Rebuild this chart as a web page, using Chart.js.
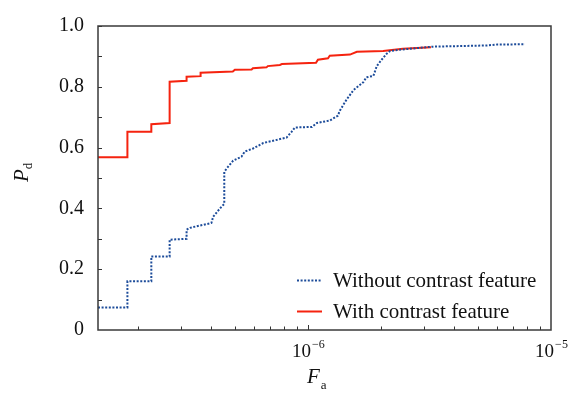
<!DOCTYPE html>
<html>
<head>
<meta charset="utf-8">
<script src="https://cdn.jsdelivr.net/npm/chart.js@4.4.1/dist/chart.umd.min.js"></script>
<style>
  html, body { margin: 0; padding: 0; background: #fff; }
</style>
</head>
<body>
<canvas id="chart" width="576" height="394"></canvas>
<script>
// false alarm rate (x) and detection probability (y)
const withoutFa = [1.37e-7, 1.81e-7, 1.81e-7, 2.27e-7, 2.27e-7, 2.70e-7, 2.70e-7, 3.17e-7, 3.17e-7, 3.27e-7,
  4.01e-7, 4.08e-7, 4.35e-7, 4.53e-7, 4.53e-7, 4.63e-7, 4.93e-7, 5.33e-7, 5.50e-7, 5.95e-7,
  6.55e-7, 8.17e-7, 8.57e-7, 8.84e-7, 1.04e-6, 1.09e-6, 1.23e-6, 1.33e-6, 1.35e-6, 1.44e-6,
  1.54e-6, 1.69e-6, 1.74e-6, 1.86e-6, 1.92e-6, 2.01e-6, 2.11e-6, 2.18e-6, 2.39e-6, 3.24e-6,
  5.45e-6, 6.0e-6, 7.82e-6];
const withoutPd = [0.074, 0.074, 0.160, 0.160, 0.242, 0.242, 0.297, 0.300, 0.330, 0.336,
  0.352, 0.373, 0.400, 0.415, 0.520, 0.531, 0.557, 0.570, 0.587, 0.597,
  0.615, 0.633, 0.652, 0.666, 0.668, 0.681, 0.689, 0.705, 0.720, 0.757,
  0.789, 0.815, 0.831, 0.836, 0.868, 0.889, 0.909, 0.918, 0.922, 0.932,
  0.936, 0.939, 0.940];

const withFa = [1.37e-7, 1.81e-7, 1.81e-7, 2.27e-7, 2.27e-7, 2.70e-7, 2.70e-7, 3.17e-7, 3.17e-7, 3.62e-7,
  3.62e-7, 4.91e-7, 5.01e-7, 5.87e-7, 5.94e-7, 6.76e-7, 6.84e-7, 7.67e-7, 7.82e-7, 1.08e-6,
  1.10e-6, 1.21e-6, 1.23e-6, 1.49e-6, 1.59e-6, 2.04e-6, 2.46e-6, 3.21e-6];
const withPd = [0.568, 0.568, 0.652, 0.652, 0.677, 0.681, 0.817, 0.820, 0.833, 0.835,
  0.846, 0.850, 0.856, 0.857, 0.861, 0.864, 0.868, 0.872, 0.875, 0.879,
  0.889, 0.894, 0.902, 0.906, 0.915, 0.918, 0.925, 0.930];

const seriesLabels = ['Without contrast feature', 'With contrast feature'];
const yTickValues = [0, 0.2, 0.4, 0.6, 0.8, 1.0];
const xLabelExponents = [-6, -5];

const SERIF = '"Liberation Serif", "Times New Roman", serif';
const BLUE = '#1d4c9a';
const RED = '#f5230f';

const toPoints = (xs, ys) => xs.map((x, i) => ({ x, y: ys[i] }));

// frame, inward ticks, x labels, axis titles and legend
const decorations = {
  id: 'decorations',
  afterDraw(chart) {
    const { ctx, chartArea: a, scales: { x, y } } = chart;
    ctx.save();

    // tick marks pointing into the plot
    ctx.strokeStyle = '#333';
    ctx.lineWidth = 1;
    ctx.beginPath();
    for (let v = 0.1; v < 1; v += 0.1) {
      const py = Math.round(y.getPixelForValue(v)) + 0.5;
      ctx.moveTo(a.left, py);
      ctx.lineTo(a.left + 4, py);
    }
    for (let e = -7; e <= -6; e++) {
      for (let m = 1; m <= 9; m++) {
        const v = m * Math.pow(10, e);
        if (v <= x.min || v >= x.max) continue;
        const px = Math.round(x.getPixelForValue(v)) + 0.5;
        ctx.moveTo(px, a.bottom);
        ctx.lineTo(px, a.bottom - (m === 1 ? 5 : 3.5));
      }
    }
    ctx.stroke();

    // box
    ctx.strokeStyle = '#3a3a3a';
    ctx.lineWidth = 1.5;
    ctx.strokeRect(a.left, a.top, a.right - a.left, a.bottom - a.top);

    // x tick labels 10^n
    ctx.fillStyle = '#111';
    ctx.textBaseline = 'alphabetic';
    ctx.textAlign = 'left';
    xLabelExponents.forEach(e => {
      const px = x.getPixelForValue(Math.pow(10, e));
      ctx.font = `19px ${SERIF}`;
      const wBase = ctx.measureText('10').width;
      ctx.font = `12px ${SERIF}`;
      const sup = '\u2212' + Math.abs(e);
      const wSup = ctx.measureText(sup).width;
      const x0 = px - (wBase + wSup) / 2;
      ctx.font = `19px ${SERIF}`;
      ctx.fillText('10', x0, 357);
      ctx.font = `12px ${SERIF}`;
      ctx.fillText(sup, x0 + wBase + 1, 348);
    });

    // x title F_a
    ctx.font = `italic 21px ${SERIF}`;
    ctx.fillText('F', 307, 383);
    const wF = ctx.measureText('F').width;
    ctx.font = `13px ${SERIF}`;
    ctx.fillText('a', 307 + wF + 1, 389);

    // y title P_d rotated
    ctx.save();
    ctx.translate(28, 182);
    ctx.rotate(-Math.PI / 2);
    ctx.font = `italic 21px ${SERIF}`;
    ctx.fillText('P', 0, 0);
    const wP = ctx.measureText('P').width;
    ctx.font = `13px ${SERIF}`;
    ctx.fillText('d', wP, 4);
    ctx.restore();

    // legend
    const ds = chart.data.datasets;
    const rows = [280, 311];
    ds.forEach((d, i) => {
      ctx.save();
      ctx.strokeStyle = d.borderColor;
      ctx.lineWidth = d.borderWidth;
      ctx.setLineDash(d.borderDash || []);
      ctx.beginPath();
      ctx.moveTo(297, rows[i] + 0.5);
      ctx.lineTo(322, rows[i] + 0.5);
      ctx.stroke();
      ctx.restore();
      ctx.font = `21px ${SERIF}`;
      ctx.fillStyle = '#111';
      ctx.textBaseline = 'middle';
      ctx.fillText(d.label, 333, rows[i] + 1);
    });

    ctx.restore();
  }
};

new Chart(document.getElementById('chart'), {
  type: 'line',
  data: {
    datasets: [
      {
        label: seriesLabels[0],
        data: toPoints(withoutFa, withoutPd),
        borderColor: BLUE,
        borderWidth: 2,
        borderDash: [2, 1.6],
        pointRadius: 0,
        tension: 0,
        fill: false
      },
      {
        label: seriesLabels[1],
        data: toPoints(withFa, withPd),
        borderColor: RED,
        borderWidth: 2,
        pointRadius: 0,
        tension: 0,
        fill: false
      }
    ]
  },
  options: {
    responsive: false,
    animation: false,
    devicePixelRatio: 1,
    layout: { padding: { left: 0, top: 13, right: 25, bottom: 0 } },
    plugins: {
      legend: { display: false },
      tooltip: { enabled: false }
    },
    scales: {
      x: {
        type: 'logarithmic',
        min: 1.37e-7,
        max: 1e-5,
        grid: { display: false, drawTicks: false },
        border: { display: false },
        ticks: { display: false },
        afterFit: s => { s.height = 64; }
      },
      y: {
        min: 0,
        max: 1,
        grid: { display: false, drawTicks: false },
        border: { display: false },
        afterBuildTicks: s => { s.ticks = yTickValues.map(value => ({ value })); },
        ticks: {
          padding: 14,
          color: '#111',
          font: { family: SERIF, size: 20 },
          callback: v => (v === 0 ? '0' : v.toFixed(1))
        },
        afterFit: s => { s.width = 98; }
      }
    }
  },
  plugins: [decorations]
});
</script>
</body>
</html>
